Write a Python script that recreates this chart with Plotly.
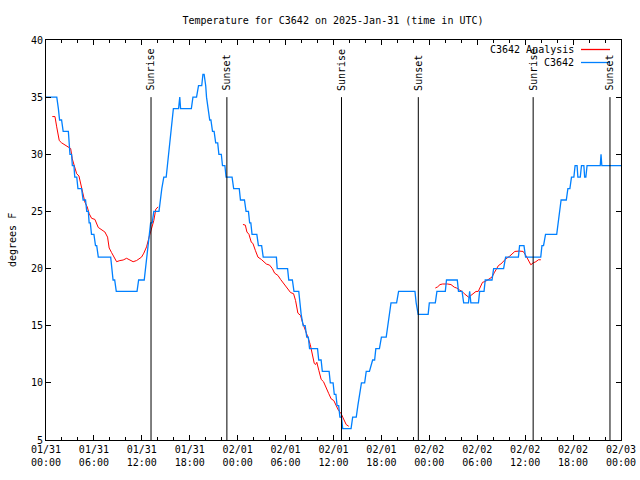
import pandas as pd
import plotly.graph_objects as go

START = pd.Timestamp("2025-01-31 00:00")

# Observations C3642 (hours since 2025-01-31 00:00 UTC, degrees F)
obs_hours = [0.0, 1.35, 1.55, 1.7, 1.95, 2.15, 2.8, 2.9, 3.0, 3.2, 3.3, 3.5, 3.6, 3.85, 4.0, 4.45,
             4.65, 4.95, 5.1, 5.3, 5.4, 5.55, 5.7, 6.0, 6.2, 6.35, 6.55, 8.1, 8.25, 8.4, 8.6, 8.8,
             11.4, 11.6, 12.3, 12.45, 12.6, 12.75, 12.9, 13.1, 13.3, 13.5, 14.15, 14.3, 14.5, 14.75,
             15.05, 15.2, 15.35, 15.5, 15.65, 15.8, 15.95, 16.6, 16.75, 16.85, 18.2, 18.4, 18.85,
             19.1, 19.5, 19.65, 19.8, 20.0, 20.1, 20.3, 20.5, 20.65, 20.85, 21.05, 21.25, 21.5,
             21.65, 21.95, 22.1, 22.4, 22.55, 23.3, 23.5, 24.2, 24.35, 24.85, 25.05, 25.35, 25.5,
             25.65, 25.8, 26.4, 26.6, 27.0, 27.2, 28.85, 28.95, 30.25, 30.4, 30.85, 31.05, 31.65,
             31.8, 31.95, 32.2, 32.45, 32.65, 32.85, 33.0, 34.0, 34.15, 34.45, 34.6, 35.45, 35.6,
             35.95, 36.1, 36.3, 36.45, 36.65, 36.8, 37.0, 37.15, 38.2, 38.4, 38.85, 39.05, 39.25,
             39.5, 39.9, 40.1, 40.5, 40.9, 41.15, 41.3, 41.75, 42.0, 42.6, 42.8, 43.0, 43.2, 43.9,
             44.15, 46.2, 46.35, 46.6, 47.85, 48.0, 48.75, 48.95, 50.0, 50.15, 51.5, 51.65, 52.1,
             52.3, 52.9, 53.05, 53.2, 54.15, 54.3, 54.85, 55.0, 55.85, 56.05, 57.3, 57.55, 59.15,
             59.3, 59.85, 60.05, 61.95, 62.1, 62.3, 62.55, 63.95, 64.15, 64.3, 64.5, 65.15, 65.35,
             65.6, 65.8, 66.1, 66.25, 66.5, 66.6, 66.9, 67.05, 67.35, 67.45, 67.6, 67.75, 69.4,
             69.5, 69.6, 72.0]
obs_temp = [35, 35, 34, 33, 33, 32, 32, 31, 30, 30, 29, 29, 28, 28, 27, 27,
            26, 26, 25, 25, 24, 24, 23, 23, 22, 22, 21, 21, 20, 19, 19, 18,
            18, 19, 19, 20, 21, 22, 23, 24, 24, 25, 25, 26, 27, 28,
            28, 29, 30, 31, 32, 33, 34, 34, 35, 34, 34, 35, 35,
            36, 36, 37, 37, 36, 35, 34, 33, 33, 32, 32, 31, 31,
            30, 30, 29, 29, 28, 28, 27, 27, 26, 26, 25, 25, 24,
            24, 23, 23, 22, 22, 21, 21, 20, 20, 19, 19, 18, 18,
            17, 16, 15, 15, 14, 14, 13, 13, 12, 12, 11, 11, 10,
            10, 9, 9, 8, 8, 7, 7, 6, 6, 7, 7, 8, 9,
            10, 10, 11, 11, 12, 12, 13, 13, 14, 14, 15, 16, 17, 17,
            18, 18, 17, 16, 16, 17, 17, 18, 18, 19, 19, 18, 18,
            17, 17, 18, 17, 17, 18, 18, 19, 19, 20, 20, 21, 21,
            22, 22, 21, 21, 22, 22, 23, 23, 24, 25, 26, 26, 27,
            27, 28, 28, 29, 29, 28, 28, 29, 29, 28, 28, 29, 29,
            30, 29, 29]

# Analysis C3642 (three segments, None = gap)
ana_hours = [0.79, 1.125, 1.34, 1.66, 1.96, 2.375, 2.79, 3.09, 3.29, 3.54, 3.84, 4.125, 4.34, 4.59,
             4.875, 5.16, 5.41, 5.71, 6.125, 6.54, 6.96, 7.375, 7.71, 7.91, 8.21, 8.5, 8.84, 9.25,
             9.66, 10.09, 10.5, 10.91, 11.34, 11.66, 11.96, 12.25, 12.59, 12.91, 13.21, 13.5, 13.75,
             14.04, None,
             24.66, 24.96, 25.16, 25.41, 25.71, 25.91, 26.21, 26.54, 26.96, 27.59, 28.0, 28.34,
             28.625, 29.04, 29.375, 29.66, 30.0, 30.29, 30.625, 31.0, 31.25, 31.54, 31.875, 32.16,
             32.5, 32.79, 33.09, 33.34, 33.59, 33.75, 33.91, 34.16, 34.46, 34.75, 35.09, 35.41,
             35.71, 36.04, 36.34, 36.625, 36.96, 37.25, 37.59, 37.91, None,
             48.75, 49.04, 49.34, 49.66, 50.29, 50.71, 51.125, 51.41, 51.75, 52.09, 52.375, 52.66,
             52.91, 53.21, 53.5, 53.84, 54.125, 54.375, 54.66, 55.0, 55.41, 55.84, 56.125, 56.41,
             56.66, 56.96, 57.25, 57.59, 58.0, 58.34, 58.71, 59.25, 59.75, 60.09, 60.41, 60.71,
             61.0, 61.34, 61.66, 61.96]
ana_temp = [33.3, 33.3, 32.4, 31.2, 31.0, 30.8, 30.6, 30.5, 29.6, 28.9, 28.3, 28.1, 27.4, 26.5,
            25.8, 25.4, 24.8, 24.4, 24.3, 23.6, 23.4, 23.2, 22.75, 21.8, 21.4, 21.0, 20.6, 20.7,
            20.75, 20.9, 20.75, 20.6, 20.7, 20.9, 21.0, 21.35, 21.9, 22.75, 23.5, 24.2, 25.2,
            25.4, None,
            23.86, 23.8, 23.2, 23.0, 22.3, 22.2, 21.6, 21.0, 20.8, 20.4, 20.3, 20.0,
            19.6, 19.4, 19.05, 18.8, 18.5, 18.2, 17.9, 17.8, 17.2, 16.1, 15.9, 15.2,
            14.6, 14.0, 13.35, 12.4, 11.7, 11.6, 11.8, 11.1, 10.3, 10.1, 9.5, 9.05,
            8.6, 8.45, 8.0, 7.6, 7.3, 6.85, 6.35, 6.2, None,
            18.3, 18.4, 18.6, 18.65, 18.65, 18.6, 18.37, 18.3, 18.14, 18.0, 17.8, 17.65,
            17.5, 17.65, 17.8, 18.0, 18.0, 18.37, 18.8, 18.87, 19.05, 19.25, 19.63, 20.0,
            20.27, 20.4, 20.6, 20.86, 21.05, 21.3, 21.5, 21.53, 21.5, 21.14, 20.7, 20.33,
            20.5, 20.6, 20.77, 20.77]

sunrise_hours = [13.15, 37.0, 61.0]
sunset_hours = [22.65, 46.62, 70.62]

def to_time(hours):
    return [None if h is None else START + pd.Timedelta(hours=h) for h in hours]

FONT = "DejaVu Sans Mono"
RED = "#ff0000"
BLUE = "#0080ff"

fig = go.Figure()
fig.add_trace(go.Scatter(x=to_time(ana_hours), y=ana_temp, mode="lines",
                         name="C3642 Analysis", line=dict(color=RED, width=1),
                         connectgaps=False))
fig.add_trace(go.Scatter(x=to_time(obs_hours), y=obs_temp, mode="lines",
                         name="C3642", line=dict(color=BLUE, width=1.3)))

for hours, label in [(sunrise_hours, "Sunrise"), (sunset_hours, "Sunset")]:
    for t in to_time(hours):
        fig.add_shape(type="line", xref="x", yref="y", x0=t, x1=t, y0=5, y1=35,
                      line=dict(color="black", width=1))
        fig.add_annotation(x=t, y=35.4, xref="x", yref="y", text=label, showarrow=False,
                           textangle=-90, xanchor="center", yanchor="bottom",
                           font=dict(family=FONT, size=10, color="black"))

# gnuplot-style key (text right-justified, sample to the right)
W, H = 640, 480
L, R, T, B = 46, 19, 40, 40
pw, ph = W - L - R, H - T - B
def px(xp):
    return (xp - L) / pw
def py(yp):
    return 1 - (yp - T) / ph

for i, (name, col) in enumerate([("C3642 Analysis", RED), ("C3642", BLUE)]):
    yy = 49.5 + i * 13
    fig.add_annotation(x=px(576), y=py(yy), xref="paper", yref="paper", text=name,
                       showarrow=False, xanchor="right", yanchor="middle",
                       font=dict(family=FONT, size=10, color="black"))
    fig.add_shape(type="line", xref="paper", yref="paper", x0=px(581), x1=px(610),
                  y0=py(yy), y1=py(yy), line=dict(color=col, width=1.3))

fig.add_annotation(x=px(12), y=0.5, xref="paper", yref="paper", text="degrees F",
                   showarrow=False, textangle=-90, xanchor="center", yanchor="middle",
                   font=dict(family=FONT, size=10, color="black"))

fig.update_layout(
    width=W, height=H,
    margin=dict(l=L, r=R, t=T, b=B, autoexpand=False),
    paper_bgcolor="white", plot_bgcolor="white",
    showlegend=False,
    font=dict(family=FONT, size=10, color="black"),
    title=dict(text="Temperature for C3642 on 2025-Jan-31 (time in UTC)",
               x=px(333), xref="paper", y=1 - 20 / H, yref="container",
               xanchor="center", yanchor="middle", automargin=False,
               font=dict(family=FONT, size=10, color="black")),
)
fig.update_xaxes(
    type="date", automargin=False,
    range=[START, START + pd.Timedelta(hours=72)],
    tick0=START, dtick=6 * 3600 * 1000,
    tickformat="%m/%d<br>%H:%M",
    ticks="inside", ticklen=5, tickcolor="black",
    minor=dict(dtick=2 * 3600 * 1000, ticks="inside", ticklen=3, tickcolor="black"),
    showline=True, linecolor="black", linewidth=1, mirror="ticks",
    showgrid=False, zeroline=False,
    tickfont=dict(family=FONT, size=10, color="black"),
)
fig.update_yaxes(
    range=[5, 40], dtick=5, tick0=5, automargin=False,
    ticks="inside", ticklen=5, tickcolor="black",
    showline=True, linecolor="black", linewidth=1, mirror="ticks",
    showgrid=False, zeroline=False,
    tickfont=dict(family=FONT, size=10, color="black"),
)

fig.write_html("out.html",
               config={"displayModeBar": False, "staticPlot": True},
               post_script="document.body.style.margin='0';document.body.style.overflow='hidden';")
